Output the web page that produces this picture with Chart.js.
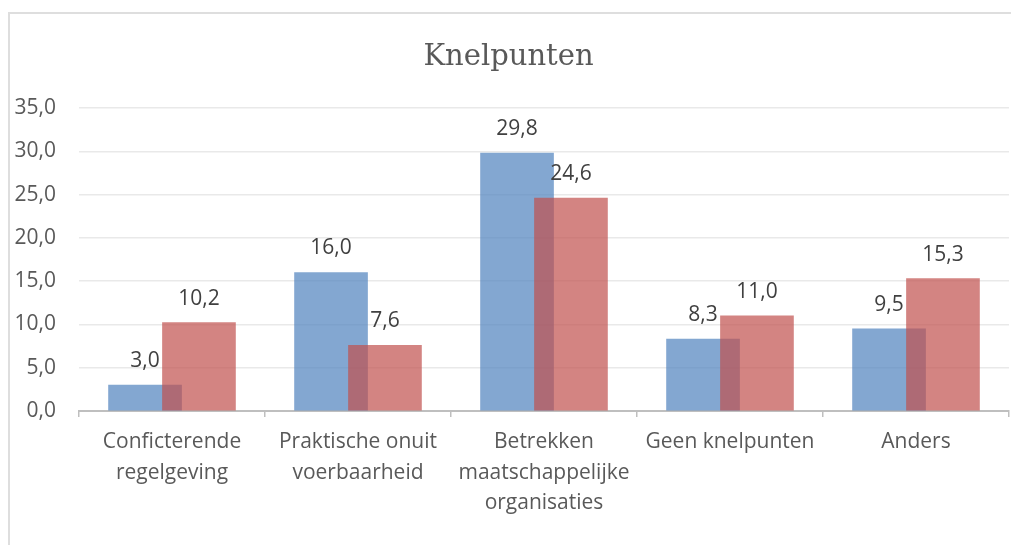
<!DOCTYPE html>
<html>
<head>
<meta charset="utf-8">
<script src="https://cdn.jsdelivr.net/npm/chart.js@4/dist/chart.umd.min.js"></script>
<style>
  html, body { margin: 0; padding: 0; background: #fff; }
  #wrap { position: relative; width: 1011px; height: 545px; overflow: hidden; }
  #frame { position: absolute; left: 8px; top: 12px; width: 1100px; height: 600px; border: 2px solid #dedede; }
  #myChart { position: absolute; left: 0; top: 0; }
</style>
</head>
<body>
<div id="wrap">
  <div id="frame"></div>
  <canvas id="myChart" width="1011" height="545"></canvas>
</div>
<script>
// categorieen en waarden
var categories = [
  ['Conficterende', 'regelgeving'],
  ['Praktische onuit', 'voerbaarheid'],
  ['Betrekken', 'maatschappelijke', 'organisaties'],
  ['Geen knelpunten'],
  ['Anders']
];
var blueValues = [3.0, 16.0, 29.8, 8.3, 9.5];
var redValues = [10.2, 7.6, 24.6, 11.0, 15.3];
var yTicks = [0, 5, 10, 15, 20, 25, 30, 35];

var shift = 0.145; // bars half overlap, like the excel chart

function fmt(v) {
  return v.toFixed(1).replace('.', ',');
}

var labelFont = "'Open Sans'";

// waarden boven de staven
var valueLabels = {
  id: 'valueLabels',
  afterDatasetsDraw: function(chart) {
    var ctx = chart.ctx;
    ctx.save();
    ctx.font = '21px ' + labelFont;
    ctx.fillStyle = '#404040';
    ctx.textAlign = 'center';
    ctx.textBaseline = 'alphabetic';
    chart.data.datasets.forEach(function(ds, i) {
      var meta = chart.getDatasetMeta(i);
      meta.data.forEach(function(bar, j) {
        ctx.fillText(fmt(ds.data[j].y), bar.x, bar.y - 18);
      });
    });
    ctx.restore();
  }
};

var ctx = document.getElementById('myChart');

var myChart = new Chart(ctx, {
  type: 'bar',
  data: {
    labels: categories,
    datasets: [
      {
        label: 'rood',
        xAxisID: 'xl',
        order: 0,
        data: redValues.map(function(v, i) { return {x: i + shift, y: v}; }),
        backgroundColor: 'rgba(192, 80, 77, 0.7)',
        barThickness: 73,
        grouped: false
      },
      {
        label: 'blauw',
        xAxisID: 'xl',
        order: 1,
        data: blueValues.map(function(v, i) { return {x: i - shift, y: v}; }),
        backgroundColor: 'rgba(79, 129, 189, 0.7)',
        barThickness: 73,
        grouped: false
      }
    ]
  },
  options: {
    responsive: false,
    animation: false,
    layout: { padding: { left: 8, right: 2, top: 0, bottom: 0 } },
    plugins: {
      legend: { display: false },
      tooltip: { enabled: false },
      title: {
        display: true,
        text: 'Knelpunten',
        color: '#595959',
        font: { family: "'DejaVu Serif'", size: 29, weight: 'normal', lineHeight: 1.2 },
        padding: { top: 40, bottom: 33.2 }
      }
    },
    scales: {
      x: {
        type: 'category',
        offset: true,
        grid: {
          offset: true,
          display: true,
          drawOnChartArea: false,
          drawTicks: true,
          tickLength: 6,
          color: '#bfbfbf',
          lineWidth: 1.5
        },
        border: { display: true, color: '#bfbfbf', width: 2 },
        ticks: {
          color: '#595959',
          padding: 10,
          maxRotation: 0,
          autoSkip: false,
          font: { family: labelFont, size: 21, lineHeight: 1.45 }
        },
        afterFit: function(scale) { scale.height = 134; }
      },
      xl: {
        type: 'linear',
        display: false,
        offset: false,
        min: -0.5,
        max: 4.5
      },
      y: {
        min: 0,
        max: 35,
        afterBuildTicks: function(scale) {
          scale.ticks = yTicks.map(function(v) { return {value: v}; });
        },
        grid: { color: '#e9e9e9', lineWidth: 1.5, drawTicks: false },
        border: { display: false },
        ticks: {
          color: '#595959',
          padding: 23,
          font: { family: labelFont, size: 21 },
          callback: function(v) { return fmt(v); }
        },
        afterFit: function(scale) { scale.width = 71; }
      }
    }
  },
  plugins: [valueLabels]
});
</script>
</body>
</html>
